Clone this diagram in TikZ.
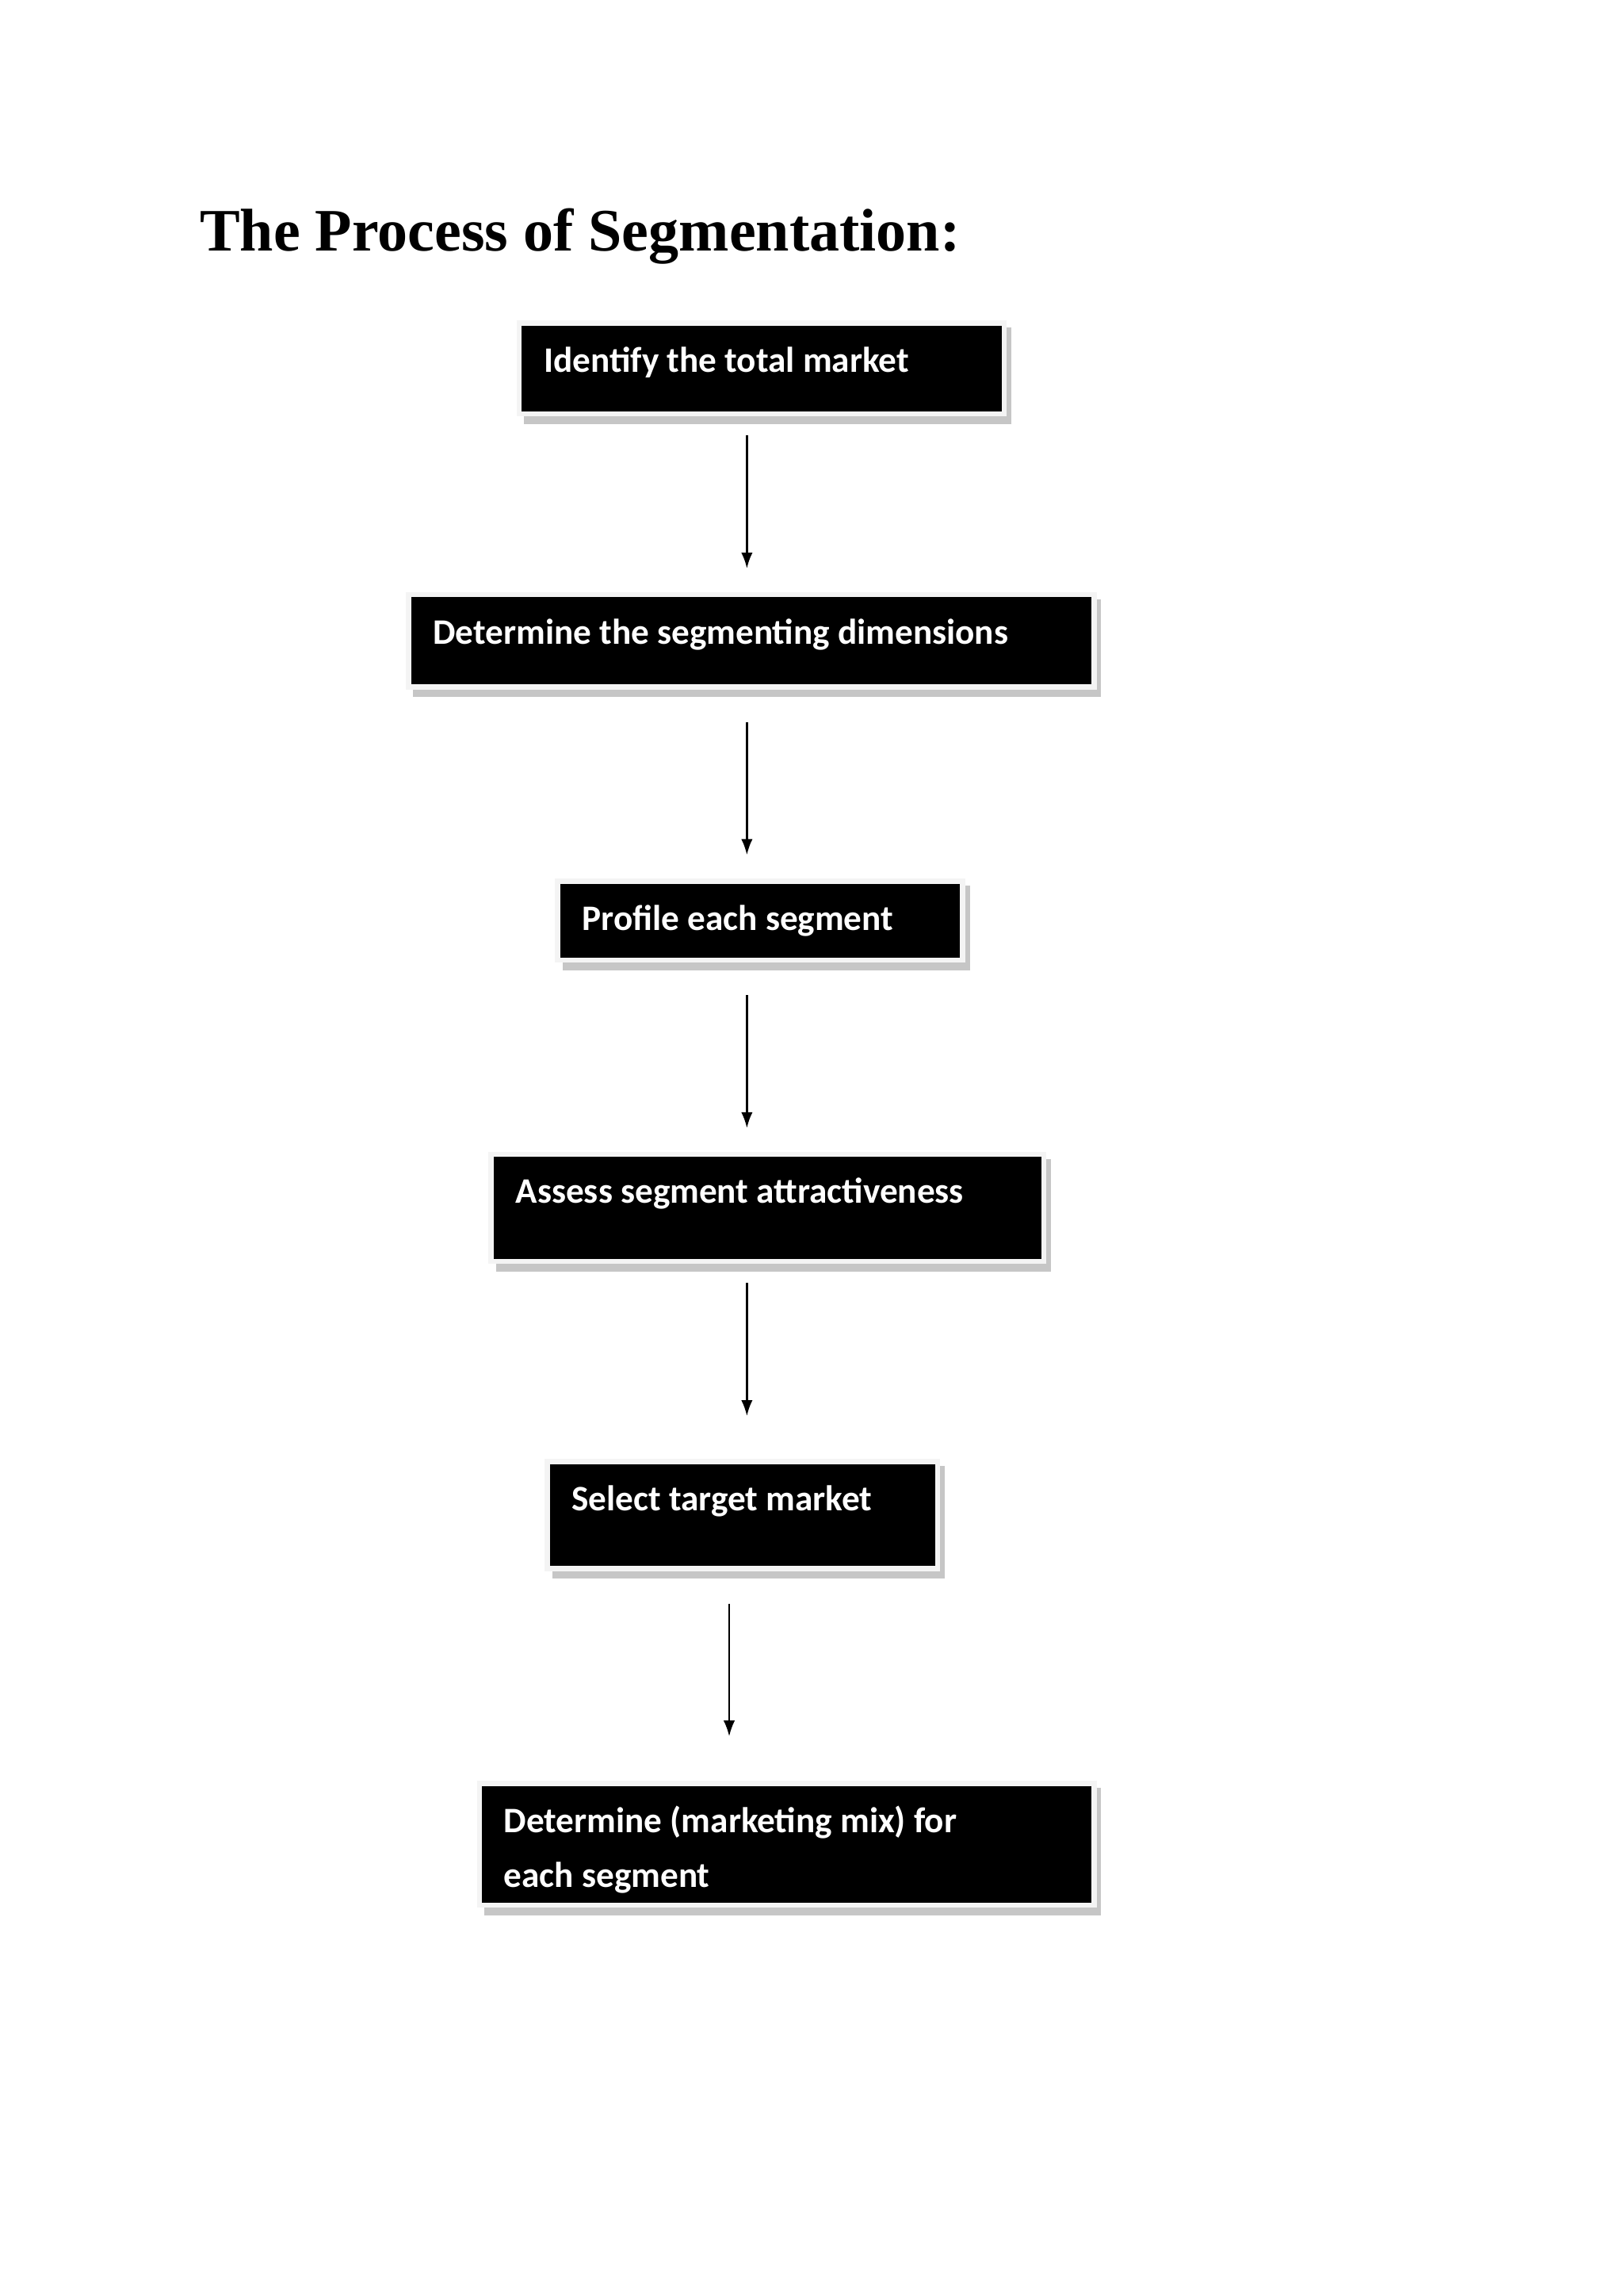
\documentclass[tikz,border=0pt]{standalone}
\usepackage{fontspec}
\setmainfont{Liberation Serif}
\newfontfamily\calfont{Carlito}
\usetikzlibrary{calc,arrows.meta}
\newcommand\bxdraw[6]{%
  \fill[gray!45] (#2+1,#4+1) rectangle (#3+7,#5+9);
  \fill[gray!9] (#2-4,#4-4) rectangle (#3+4,#5+4);
  \node[blk,minimum width={(#3-#2)*0.4655pt},minimum height={(#5-#4)*0.4655pt}] (#1) at ({(#2+#3)/2},{(#4+#5)/2}) {};
  \node[lbl] (#1t) at (#2+14,#4+31) {#6};}
\begin{document}
\begin{tikzpicture}[x=0.4655pt,y=-0.4655pt,
  lbl/.style={anchor=base west,inner sep=0pt,text=white,font=\calfont\bfseries\fontsize{11.3}{17.5}\selectfont},
  arr/.style={-{Latex[length=5pt,width=3.6pt]},line width=0.6pt},
  blk/.style={fill=black,draw=black,inner sep=0pt}]
\useasboundingbox (0,0) rectangle (1100,1555);
\fill[white] (0,0) rectangle (1100,1555);
\node[anchor=base west,inner sep=0pt,font=\bfseries\fontsize{19}{22}\selectfont] (title) at (135,170) {The Process of Segmentation:};
\bxdraw{b1}{354}{678}{221}{278}{Identify the total market}
\bxdraw{b2}{279}{739}{405}{463}{Determine the segmenting dimensions}
\bxdraw{b3}{380}{650}{599}{648}{Profile each segment}
\bxdraw{b4}{335}{705}{784}{852}{Assess segment attractiveness}
\bxdraw{b5}{373}{633}{992}{1060}{Select target market}
\fill[gray!45] (328,1211) rectangle (746,1297);
\fill[gray!9] (323,1206) rectangle (743,1292);
\node[blk,minimum width={412*0.4655pt},minimum height={78*0.4655pt}] (b6) at (533,1249) {};
\node[lbl] (b6t) at (341,1241) {Determine (marketing mix) for};
\node[lbl] (b6u) at (341,1278) {each segment};
\coordinate (a1s) at (506,295); \coordinate (a1e) at (506,385);
\coordinate (a2s) at (506,489); \coordinate (a2e) at (506,579);
\coordinate (a3s) at (506,674); \coordinate (a3e) at (506,764);
\coordinate (a4s) at (506,869); \coordinate (a4e) at (506,959);
\coordinate (a5s) at (494,1086); \coordinate (a5e) at (494,1176);
\foreach \i in {1,...,5}{\draw[arr] (a\i s) -- (a\i e);}
\end{tikzpicture}
\end{document}
